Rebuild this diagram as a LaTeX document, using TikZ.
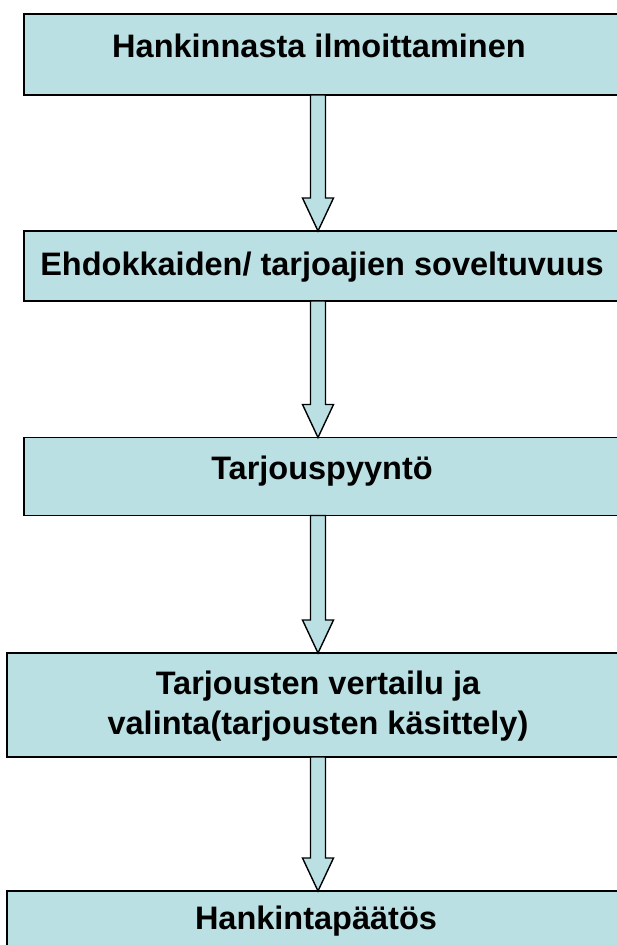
\documentclass[tikz,border=0pt]{standalone}
\usepackage{fontspec}
\setmainfont{Liberation Sans}
\usetikzlibrary{calc}
\definecolor{boxfill}{RGB}{187,224,227}
\tikzset{
  stepbox/.style={draw=black, fill=boxfill, line width=1.6pt, rectangle, inner sep=0pt, outer sep=0pt},
  steptext/.style={font=\fontsize{32.5}{40}\selectfont\bfseries, inner sep=0pt, align=center, anchor=base},
  blockarrow/.style={draw=black, fill=boxfill, line width=1.4pt, line join=miter}
}
\newcommand{\blockarr}[2]{%
  \path let \p1=(#1), \p2=(#2) in
    [blockarrow] (\x1-7.5pt,\y1) -- (\x1-7.5pt,\y2+33pt) -- (\x1-15.5pt,\y2+33pt)
    -- (\x2,\y2) -- (\x1+15.5pt,\y2+33pt) -- (\x1+7.5pt,\y2+33pt) -- (\x1+7.5pt,\y1) -- cycle;
}
\begin{document}
\begin{tikzpicture}[x=1pt,y=-1pt]
\useasboundingbox (0,0) rectangle (617,945);
\begin{scope}
\clip (0,0) rectangle (617,945);
\node[stepbox, minimum width=601pt, minimum height=81pt] (b1) at (324.5,54.5) {};
\node[stepbox, minimum width=601pt, minimum height=70pt] (b2) at (324.5,266) {};
\node[stepbox, minimum width=601pt, minimum height=78pt] (b3) at (324.5,476.5) {};
\node[stepbox, minimum width=623pt, minimum height=104pt] (b4) at (318.5,705) {};
\node[stepbox, minimum width=623pt, minimum height=69pt] (b5) at (318.5,925.5) {};
\coordinate (axis) at (318,0);
\coordinate (s1) at (b1.south -| axis); \coordinate (e1) at (b2.north -| axis);
\coordinate (s2) at (b2.south -| axis); \coordinate (e2) at (b3.north -| axis);
\coordinate (s3) at (b3.south -| axis); \coordinate (e3) at (b4.north -| axis);
\coordinate (s4) at (b4.south -| axis); \coordinate (e4) at (b5.north -| axis);
\blockarr{s1}{e1}
\blockarr{s2}{e2}
\blockarr{s3}{e3}
\blockarr{s4}{e4}
\node[steptext] (t1) at (319,57) {Hankinnasta ilmoittaminen};
\node[steptext] (t2) at (322,275) {Ehdokkaiden/ tarjoajien soveltuvuus};
\node[steptext] (t3) at (322,479) {Tarjouspyyntö};
\node[steptext] (t4) at (318,734) {Tarjousten vertailu ja\\valinta(tarjousten käsittely)};
\node[steptext] (t5) at (316,929) {Hankintapäätös};
\end{scope}
\end{tikzpicture}
\end{document}
